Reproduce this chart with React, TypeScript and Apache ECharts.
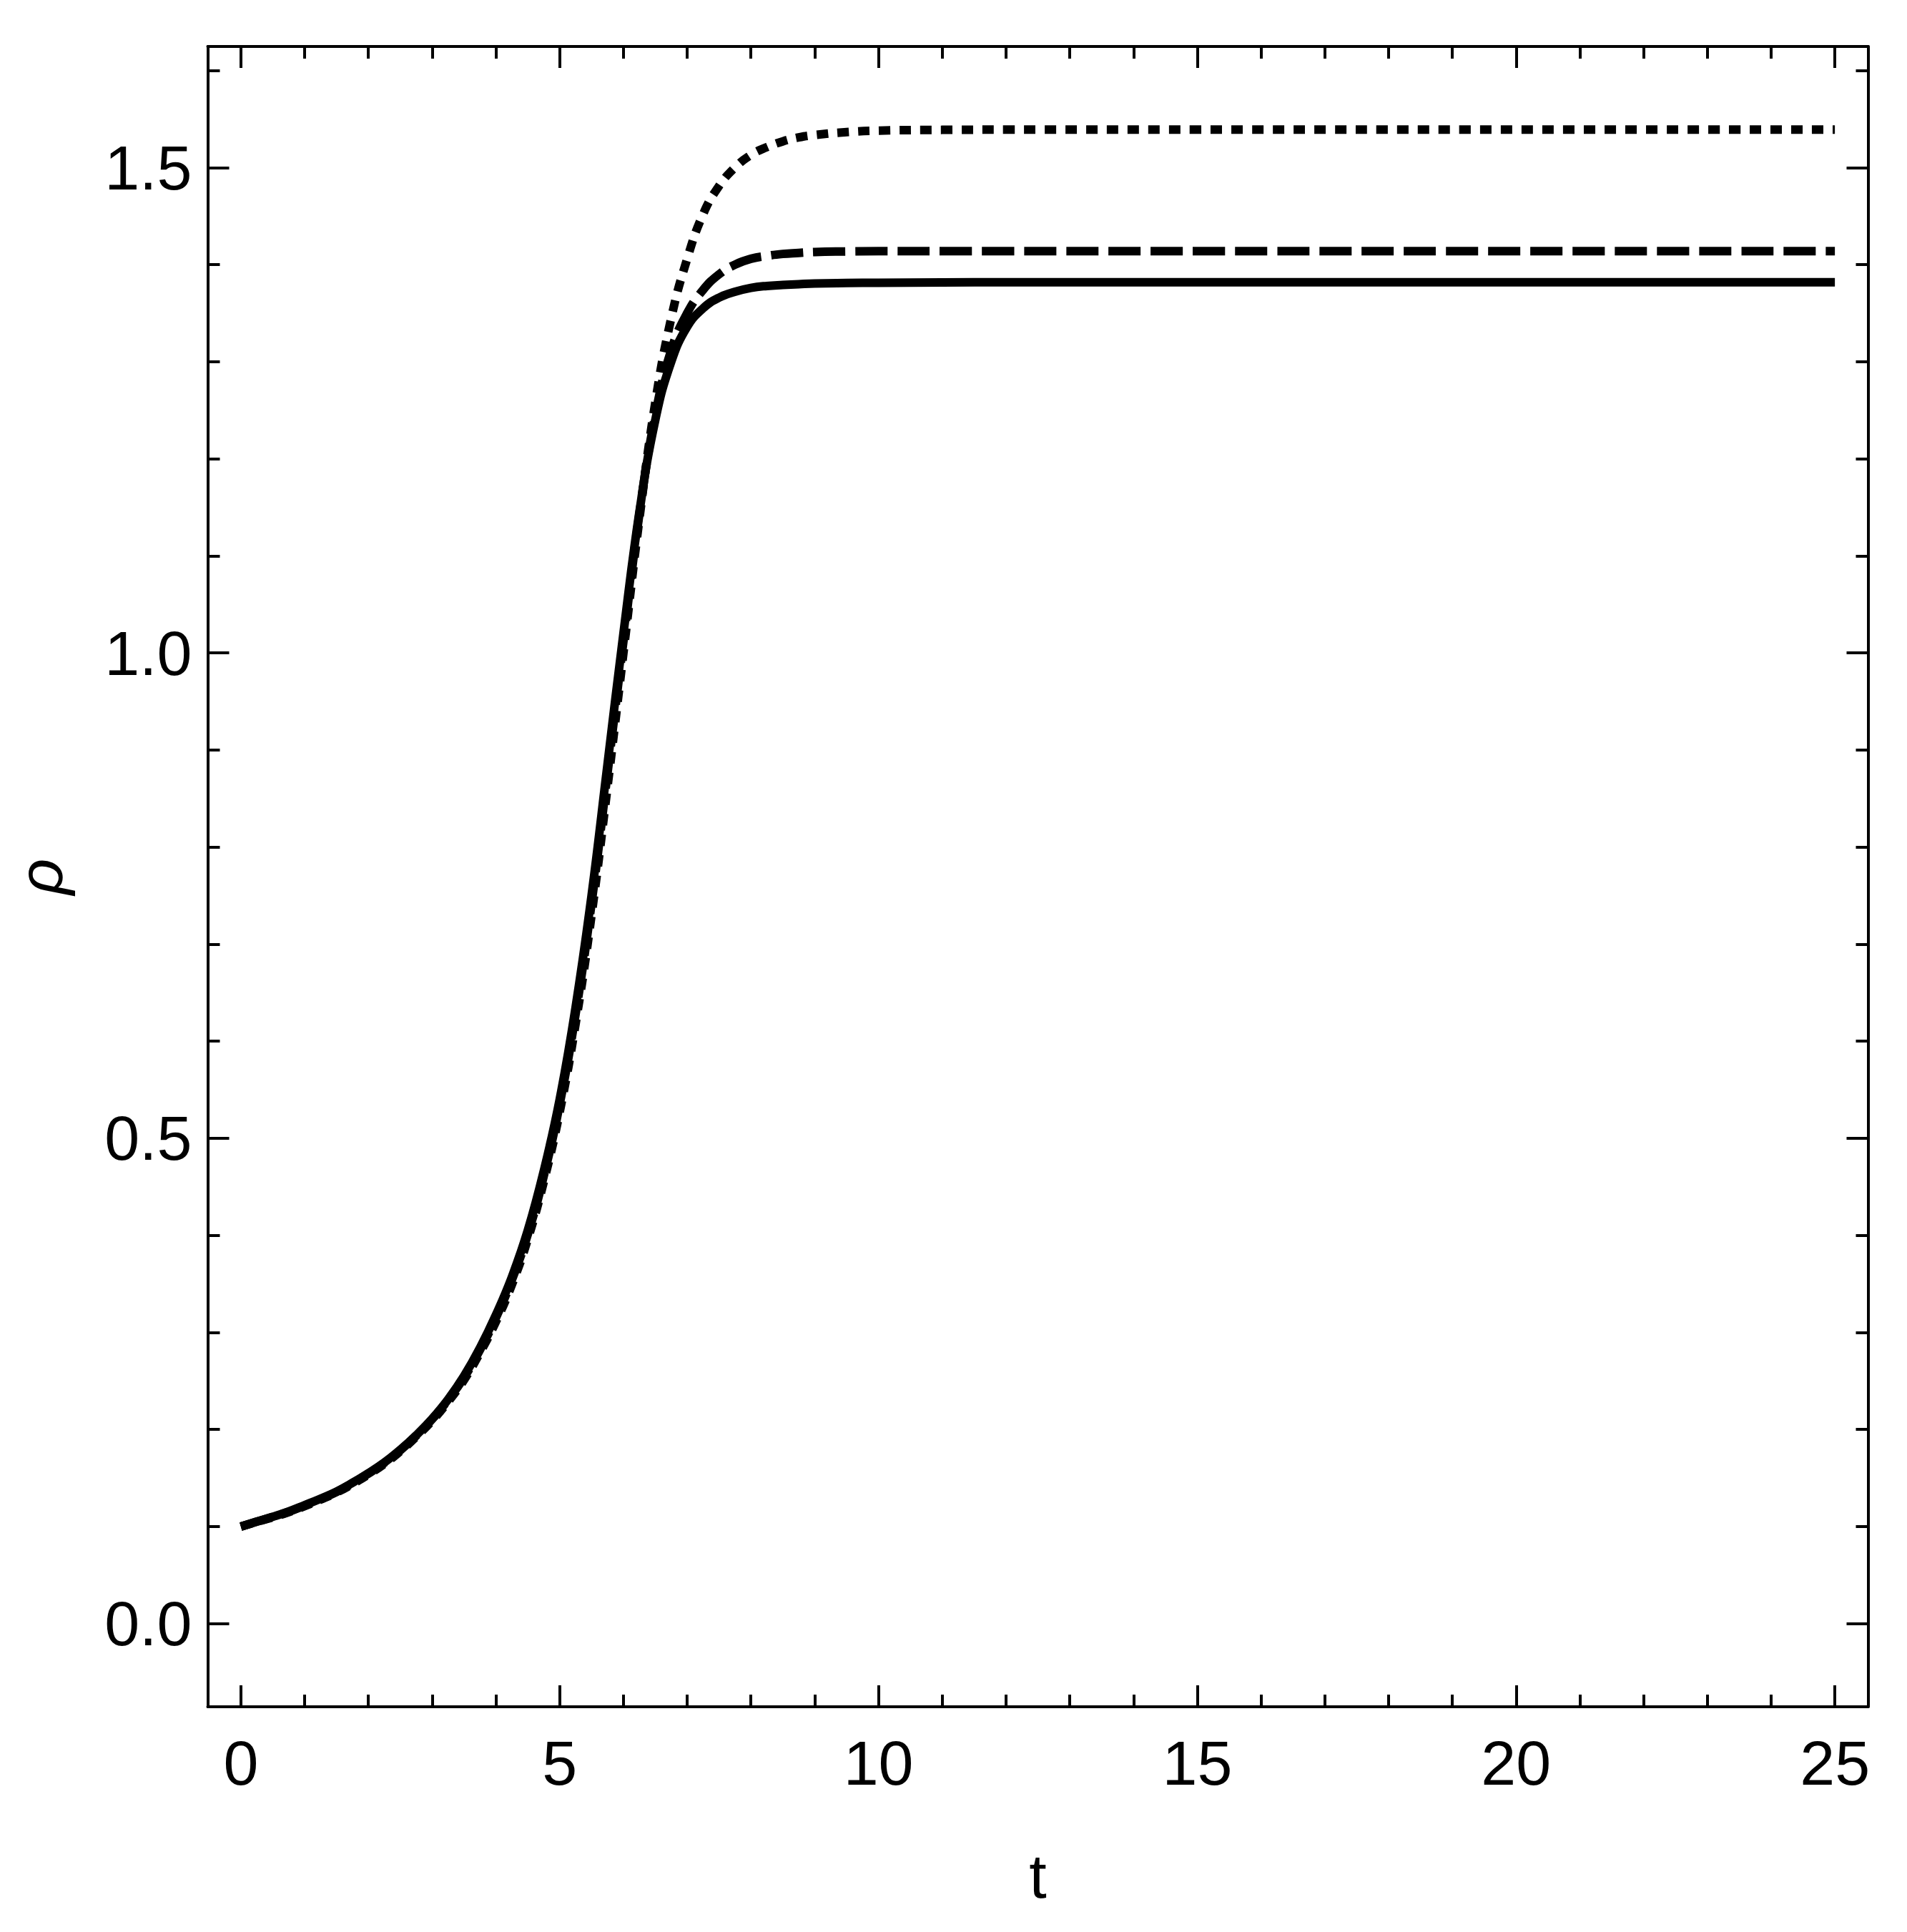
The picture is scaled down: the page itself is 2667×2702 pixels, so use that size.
import React, { useEffect, useRef } from 'react';
import * as echarts from 'echarts';

// time samples (t)
const tValues = [0, 0.25, 0.5, 0.75, 1, 1.25, 1.5, 1.75, 2, 2.25, 2.5, 2.75, 3, 3.25, 3.5, 3.75, 4, 4.25, 4.5, 4.75, 5, 5.25, 5.5, 5.75, 6, 6.25, 6.5, 6.75, 7, 7.25, 7.5, 7.75, 8, 8.25, 8.5, 8.75, 9, 9.5, 10, 11, 12, 15, 20, 25];

// solid curve
const solidRho = [0.100, 0.105, 0.110, 0.1155, 0.122, 0.1287, 0.136, 0.145, 0.155, 0.166, 0.179, 0.194, 0.211, 0.231, 0.255, 0.284, 0.318, 0.357, 0.405, 0.466, 0.540, 0.635, 0.750, 0.885, 1.020, 1.145, 1.240, 1.300, 1.336, 1.355, 1.366, 1.372, 1.376, 1.378, 1.379, 1.3798, 1.3805, 1.381, 1.3813, 1.3816, 1.3818, 1.3818, 1.3818, 1.3818];

// dashed curve
const dashedRho = [0.100, 0.105, 0.110, 0.1152, 0.1215, 0.1282, 0.1355, 0.1445, 0.1545, 0.1655, 0.1785, 0.1935, 0.2105, 0.2305, 0.2535, 0.282, 0.315, 0.354, 0.401, 0.461, 0.535, 0.628, 0.742, 0.876, 1.012, 1.143, 1.245, 1.312, 1.350, 1.374, 1.390, 1.400, 1.406, 1.409, 1.411, 1.412, 1.413, 1.4135, 1.4138, 1.4138, 1.4138, 1.4138, 1.4138, 1.4138];

// dotted curve
const dottedRho = [0.100, 0.1047, 0.1095, 0.1148, 0.121, 0.1277, 0.135, 0.1438, 0.1535, 0.1645, 0.1775, 0.1925, 0.209, 0.2285, 0.251, 0.279, 0.311, 0.349, 0.396, 0.455, 0.527, 0.618, 0.730, 0.862, 1.000, 1.138, 1.258, 1.345, 1.406, 1.452, 1.481, 1.500, 1.513, 1.521, 1.527, 1.531, 1.5335, 1.5365, 1.538, 1.5388, 1.539, 1.539, 1.539, 1.539];

// ticks
const xMajorTicks = [0, 5, 10, 15, 20, 25];
const xMinorTicks = [1, 2, 3, 4, 6, 7, 8, 9, 11, 12, 13, 14, 16, 17, 18, 19, 21, 22, 23, 24];
const yMajorTicks = [0, 0.5, 1.0, 1.5];
const yMinorTicks = [0.1, 0.2, 0.3, 0.4, 0.6, 0.7, 0.8, 0.9, 1.1, 1.2, 1.3, 1.4, 1.6];

const X_MIN = -0.52;
const X_MAX = 25.52;
const Y_MIN = -0.0857;
const Y_MAX = 1.6247;

const FONT = "'Liberation Sans', Arial, sans-serif";

export default function App() {
  const ref = useRef<HTMLDivElement>(null);

  useEffect(() => {
    if (!ref.current) return;
    const chart = echarts.init(ref.current, null, { renderer: 'svg' });

    const pairs = (ys: number[]) => tValues.map((t, i) => [t, ys[i]]);

    const lineCommon = { show: true, onZero: false, lineStyle: { color: '#000', width: 4 } };

    const xAxisBase = (position: string, ticks: number[], len: number, showLine: boolean, labels: boolean) => ({
      type: 'value',
      position,
      min: X_MIN,
      max: X_MAX,
      axisLine: showLine ? lineCommon : { show: false, onZero: false },
      axisTick: { show: true, inside: true, length: len, customValues: ticks, lineStyle: { color: '#000', width: 4 } },
      axisLabel: labels
        ? { show: true, customValues: ticks, margin: 34, fontSize: 88, color: '#000', fontFamily: FONT, formatter: (v: number) => String(v) }
        : { show: false },
      splitLine: { show: false },
      minorTick: { show: false },
    });

    const yAxisBase = (position: string, ticks: number[], len: number, showLine: boolean, labels: boolean) => ({
      type: 'value',
      position,
      min: Y_MIN,
      max: Y_MAX,
      axisLine: showLine ? lineCommon : { show: false, onZero: false },
      axisTick: { show: true, inside: true, length: len, customValues: ticks, lineStyle: { color: '#000', width: 4 } },
      axisLabel: labels
        ? { show: true, customValues: ticks, margin: 22, fontSize: 88, color: '#000', fontFamily: FONT, formatter: (v: number) => v.toFixed(1) }
        : { show: false },
      splitLine: { show: false },
      minorTick: { show: false },
    });

    const x0: any = xAxisBase('bottom', xMajorTicks, 30, true, true);
    x0.name = 't';
    x0.nameLocation = 'middle';
    x0.nameGap = 192;
    x0.nameTextStyle = { fontSize: 88, color: '#000', fontFamily: FONT };

    const y0: any = yAxisBase('left', yMajorTicks, 30, true, true);
    y0.name = 'ρ';
    y0.nameLocation = 'middle';
    y0.nameGap = 190;
    y0.nameRotate = 90;
    y0.nameTextStyle = { fontSize: 88, color: '#000', fontFamily: FONT, fontStyle: 'italic' };

    const mk = (name: string, ys: number[], type: any) => ({
      name,
      type: 'line',
      xAxisIndex: 0,
      yAxisIndex: 0,
      data: pairs(ys),
      showSymbol: false,
      symbol: 'none',
      smooth: 0.45,
      lineStyle: { color: '#000', width: 12, type, cap: 'butt', join: 'round' },
      emphasis: { disabled: true },
    });

    chart.setOption({
      animation: false,
      backgroundColor: '#fff',
      grid: { left: 290.5, right: 54.5, top: 65, bottom: 315, containLabel: false },
      xAxis: [
        x0,
        xAxisBase('bottom', xMinorTicks, 17, false, false),
        xAxisBase('top', xMajorTicks, 30, true, false),
        xAxisBase('top', xMinorTicks, 17, false, false),
      ],
      yAxis: [
        y0,
        yAxisBase('left', yMinorTicks, 17, false, false),
        yAxisBase('right', yMajorTicks, 30, true, false),
        yAxisBase('right', yMinorTicks, 17, false, false),
      ],
      series: [
        mk('solid', solidRho, 'solid'),
        mk('dashed', dashedRho, [45, 14]),
        mk('dotted', dottedRho, [16, 13]),
      ],
    });

    return () => chart.dispose();
  }, []);

  return <div ref={ref} style={{ position: 'absolute', left: 0, top: 0, width: 2667, height: 2702 }} />;
}
